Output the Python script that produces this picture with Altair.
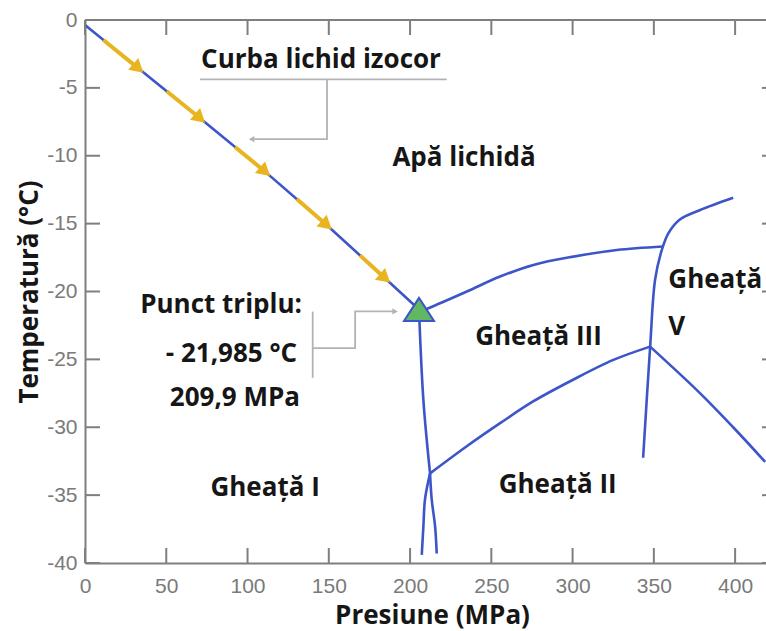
import altair as alt
import pandas as pd

# ---------------- data ----------------
x_ticks = [0, 50, 100, 150, 200, 250, 300, 350, 400]
y_ticks = [0, -5, -10, -15, -20, -25, -30, -35, -40]

# liquid isochore (blue base line), through the arrowhead centres
iso_p = [0.0, 32.8, 70.8, 110.8, 148.7, 184.6, 205.5]
iso_t = [-0.37, -3.56, -7.24, -11.17, -15.1, -19.02, -21.32]
# yellow stretches of the isochore: start and arrowhead centre
yel_p0 = [11.3, 50.3, 92.3, 130.3, 169.2]
yel_t0 = [-1.47, -5.25, -9.35, -13.19, -17.34]
yel_p1 = [32.8, 70.8, 110.8, 148.7, 184.6]
yel_t1 = [-3.56, -7.24, -11.17, -15.1, -19.02]

# triple point
triple_p = [205.5]
triple_t = [-21.32]

# phase boundaries
liq_III_p = [205.5, 211.3, 234.9, 255.4, 275.9, 300.5, 327.2, 355.5]
liq_III_t = [-21.5, -21.23, -20.0, -18.9, -18.04, -17.43, -16.94, -16.68]
V_p = [343.4, 347.7, 350.8, 355.0, 359.0, 366.0, 378.5, 398.8]
V_t = [-32.25, -24.1, -19.1, -16.9, -15.7, -14.7, -14.0, -13.1]
I_III_p = [205.5, 208.2, 212.3]
I_III_t = [-21.32, -28.0, -33.4]
I_a_p = [212.3, 209.2, 208.2, 207.2]
I_a_t = [-33.4, -35.3, -37.3, -39.4]
I_b_p = [212.3, 213.3, 215.4, 216.4]
I_b_t = [-33.4, -35.3, -37.3, -39.3]
II_III_p = [212.3, 234.9, 255.4, 275.7, 300.3, 325.1, 347.7]
II_III_t = [-33.4, -31.4, -29.7, -28.1, -26.5, -25.04, -24.06]
II_V_p = [347.7, 378.5, 398.8, 418.5]
II_V_t = [-24.06, -27.5, -30.0, -32.55]

# callout lines (gray)
curba_under_p = [70.8, 222.6]
curba_under_t = [-4.37, -4.37]
curba_elbow_p = [148.9, 148.9, 103.0]
curba_elbow_t = [-4.37, -8.78, -8.78]
curba_tip_p = [102.5]
curba_tip_t = [-8.78]
punct_bracket_p = [140.1, 140.1]
punct_bracket_t = [-21.48, -26.36]
punct_elbow_p = [140.1, 166.2, 166.2, 190.0]
punct_elbow_t = [-24.17, -24.17, -21.47, -21.47]
punct_tip_p = [190.8]
punct_tip_t = [-21.47]

# text labels
center_text = ["Curba lichid izocor", "Apă lichidă", "Gheață I", "Gheață III", "Gheață II"]
center_p = [145.2, 233.2, 110.8, 279.0, 290.8]
center_t = [-3.56, -10.75, -35.1, -23.93, -34.85]
right_text = ["Punct triplu:", "- 21,985 °C", "209,9 MPa"]
right_p = [133.5, 130.5, 132.3]
right_t = [-21.6, -25.16, -28.47]
left_text = ["Gheață", "V"]
left_p = [358.9, 358.9]
left_t = [-19.76, -23.2]

# ---------------- styling ----------------
W, H = 681, 543
AX = "#7f7f7f"
BLUE = "#3c55c8"
YELLOW = "#e8b420"
GREEN = "#62b862"
CALL = "#b3b3b3"
TXT = "#161616"
FONT = "Open Sans"
FS = 26

xs = alt.Scale(domain=[0, 419], nice=False, zero=False)
ys = alt.Scale(domain=[-40, 0], nice=False, zero=False)


def X(f="p"):
    return alt.X(f"{f}:Q", scale=xs)


def Y(f="t"):
    return alt.Y(f"{f}:Q", scale=ys)


# boundaries dataframe
segs = {
    "liqIII": (liq_III_p, liq_III_t),
    "V": (V_p, V_t),
    "IIII": (I_III_p, I_III_t),
    "Ia": (I_a_p, I_a_t),
    "Ib": (I_b_p, I_b_t),
    "IIIII": (II_III_p, II_III_t),
    "IIV": (II_V_p, II_V_t),
}
rows = []
for name, (ps, ts) in segs.items():
    for i, (p, t) in enumerate(zip(ps, ts)):
        rows.append({"seg": name, "i": i, "p": p, "t": t})
bound_df = pd.DataFrame(rows)

boundaries = alt.Chart(bound_df).mark_line(
    color=BLUE, strokeWidth=2.6, interpolate="catmull-rom"
).encode(
    x=alt.X("p:Q", scale=xs,
            axis=alt.Axis(values=x_ticks, title="Presiune (MPa)")),
    y=alt.Y("t:Q", scale=ys,
            axis=alt.Axis(values=y_ticks, title="Temperatură (°C)",
                          labelExpr="toString(datum.value)")),
    detail="seg:N",
    order="i:Q",
)

iso_df = pd.DataFrame({"p": iso_p, "t": iso_t, "i": list(range(len(iso_p)))})
isochore = alt.Chart(iso_df).mark_line(color=BLUE, strokeWidth=2.6).encode(
    x=X(), y=Y(), order="i:Q"
)

# frame: top line and inward ticks
one = pd.DataFrame({"a": [0]})
top_line = alt.Chart(one).mark_rule(color=AX, strokeWidth=2).encode(
    x=alt.value(0), x2=alt.value(W), y=alt.value(0)
)
xt = pd.DataFrame({"p": x_ticks})
yt = pd.DataFrame({"t": y_ticks})
bottom_ticks = alt.Chart(xt).mark_rule(color=AX, strokeWidth=2).encode(
    x=X(), y=alt.value(H), y2=alt.value(H - 15)
)
top_ticks = alt.Chart(xt).mark_rule(color=AX, strokeWidth=2).encode(
    x=X(), y=alt.value(0), y2=alt.value(15)
)
left_ticks = alt.Chart(yt).mark_rule(color=AX, strokeWidth=2).encode(
    y=Y(), x=alt.value(0), x2=alt.value(15)
)
right_ticks = alt.Chart(yt).mark_rule(color=AX, strokeWidth=2).encode(
    y=Y(), x=alt.value(W - 4), x2=alt.value(W)
)

# yellow arrows
yel_df = pd.DataFrame({"p": yel_p0, "t": yel_t0, "p2": yel_p1, "t2": yel_t1})
yel_lines = alt.Chart(yel_df).mark_rule(color=YELLOW, strokeWidth=4).encode(
    x=X(), y=Y(), x2="p2:Q", y2="t2:Q"
)
yel_heads = alt.Chart(yel_df).mark_point(
    shape="triangle-right", size=240, filled=True, fill=YELLOW,
    opacity=1, fillOpacity=1, angle=41, strokeWidth=0
).encode(x=X("p2"), y=Y("t2"))

# triple point triangle
tri_df = pd.DataFrame({"p": triple_p, "t": triple_t})
triangle = alt.Chart(tri_df).mark_point(
    shape="M0,-0.77 L-1,0.77 L1,0.77 Z", size=900, filled=True, fill=GREEN,
    stroke=BLUE, strokeWidth=2, opacity=1, fillOpacity=1
).encode(x=X(), y=Y())

# callouts
crow = []
for name, (ps, ts) in {
    "cu": (curba_under_p, curba_under_t),
    "ce": (curba_elbow_p, curba_elbow_t),
    "pb": (punct_bracket_p, punct_bracket_t),
    "pe": (punct_elbow_p, punct_elbow_t),
}.items():
    for i, (p, t) in enumerate(zip(ps, ts)):
        crow.append({"seg": name, "i": i, "p": p, "t": t})
call_df = pd.DataFrame(crow)
callouts = alt.Chart(call_df).mark_line(color=CALL, strokeWidth=1.8).encode(
    x=X(), y=Y(), detail="seg:N", order="i:Q"
)
tip_left = alt.Chart(pd.DataFrame({"p": curba_tip_p, "t": curba_tip_t})).mark_point(
    shape="triangle-left", size=40, filled=True, fill=CALL, opacity=1, strokeWidth=0
).encode(x=X(), y=Y())
tip_right = alt.Chart(pd.DataFrame({"p": punct_tip_p, "t": punct_tip_t})).mark_point(
    shape="triangle-right", size=40, filled=True, fill=CALL, opacity=1, strokeWidth=0
).encode(x=X(), y=Y())


# text labels
def text_layer(txt, ps, ts, align):
    df = pd.DataFrame({"label": txt, "p": ps, "t": ts})
    return alt.Chart(df).mark_text(
        font=FONT, fontSize=FS, fontWeight="bold", color=TXT,
        align=align, baseline="alphabetic"
    ).encode(x=X(), y=Y(), text="label:N")


texts_c = text_layer(center_text, center_p, center_t, "center")
texts_r = text_layer(right_text, right_p, right_t, "right")
texts_l = text_layer(left_text, left_p, left_t, "left")

chart = alt.layer(
    boundaries, isochore, top_line, bottom_ticks, top_ticks, left_ticks, right_ticks,
    callouts, tip_left, tip_right,
    yel_lines, yel_heads, triangle,
    texts_c, texts_r, texts_l,
).properties(
    width=W, height=H,
    autosize=alt.AutoSizeParams(type="none"),
    padding={"left": 85, "top": 20, "right": 0, "bottom": 68},
    background="white",
).configure_view(
    stroke=None
).configure_axis(
    grid=False, ticks=False, domainColor=AX, domainWidth=2,
    labelFont="Liberation Sans", labelFontSize=21, labelColor="#7a7a7a",
    labelFlush=False, labelOverlap=False,
    titleFont=FONT, titleFontSize=FS, titleFontWeight="bold", titleColor=TXT,
).configure_axisX(
    labelPadding=12, titleX=347, titleY=60, titleBaseline="alphabetic",
    titleAlign="center",
).configure_axisY(
    labelPadding=8, titleAngle=270, titleX=-48, titleY=271.5,
    titleBaseline="alphabetic", titleAlign="center",
)

chart.save("out.html", embed_options={"renderer": "svg", "actions": False})
